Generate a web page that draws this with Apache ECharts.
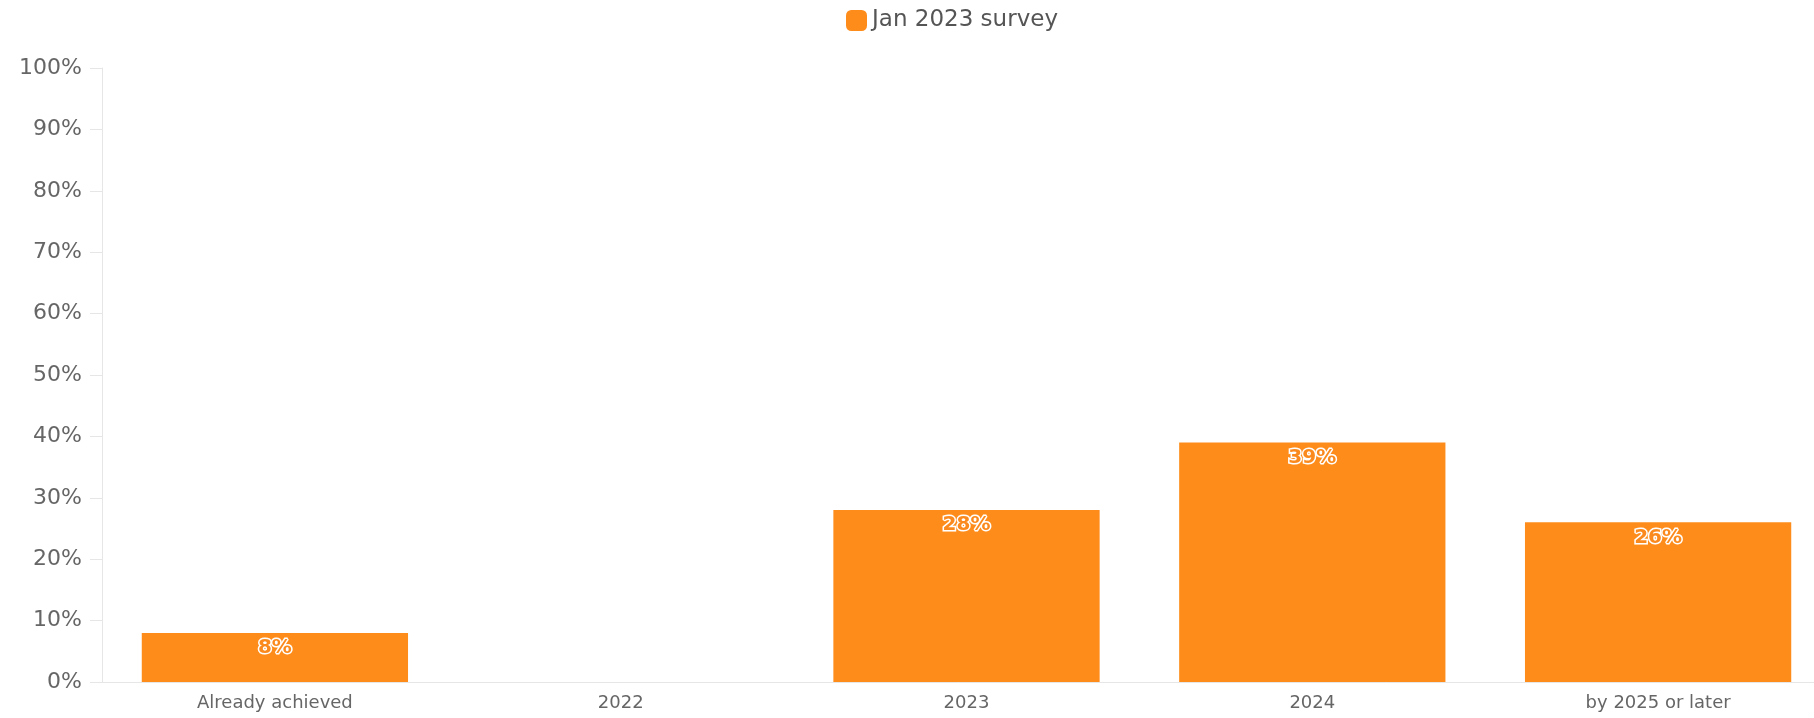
<!DOCTYPE html>
<html>
<head>
<meta charset="utf-8">
<script src="https://cdn.jsdelivr.net/npm/echarts@6/dist/echarts.min.js"></script>
<style>html,body{margin:0;padding:0;background:#fff}#c{width:1814px;height:718px}</style>
</head>
<body>
<div id="c"></div>
<script>
const categories = ['Already achieved', '2022', '2023', '2024', 'by 2025 or later'];
const seriesName = 'Jan 2023 survey';
const values = [8, null, 28, 39, 26];
const yTicks = [0, 10, 20, 30, 40, 50, 60, 70, 80, 90, 100];

const chart = echarts.init(document.getElementById('c'));
chart.setOption({
  animation: false,
  legend: {
    left: 841, top: 4,
    itemWidth: 21, itemHeight: 21, itemGap: 10,
    icon: 'roundRect',
    textStyle: { fontFamily: 'DejaVu Sans', fontSize: 23, color: '#555' },
    data: [seriesName]
  },
  grid: { left: 102, width: 1729, top: 68, bottom: 36, containLabel: false, outerBoundsMode: 'none' },
  xAxis: {
    type: 'category',
    data: categories,
    axisLine: { lineStyle: { color: '#e6e6e6', width: 1 } },
    axisTick: { alignWithLabel: true, length: 10, lineStyle: { color: '#e0e0e0' } },
    axisLabel: { fontFamily: 'DejaVu Sans', fontSize: 18, color: '#666', margin: 12 }
  },
  yAxis: {
    type: 'value',
    min: yTicks[0], max: yTicks[yTicks.length - 1], interval: 10,
    axisLine: { show: true, lineStyle: { color: '#e6e6e6', width: 1 } },
    axisTick: { show: true, length: 12, lineStyle: { color: '#e6e6e6' } },
    splitLine: { show: false },
    axisLabel: { fontFamily: 'DejaVu Sans', fontSize: 22, color: '#666', margin: 20, formatter: v => v + '%' }
  },
  series: [{
    name: seriesName,
    type: 'bar',
    data: values,
    barCategoryGap: '23%',
    itemStyle: { color: '#fe8c1a' },
    label: {
      show: true, position: 'insideTop', distance: 5,
      formatter: p => p.value == null ? '' : p.value + '%',
      fontFamily: 'DejaVu Sans', fontWeight: 'bold', fontSize: 20,
      color: '#fb8a1e', textBorderColor: '#fff', textBorderWidth: 3
    }
  }]
});
</script>
</body>
</html>
